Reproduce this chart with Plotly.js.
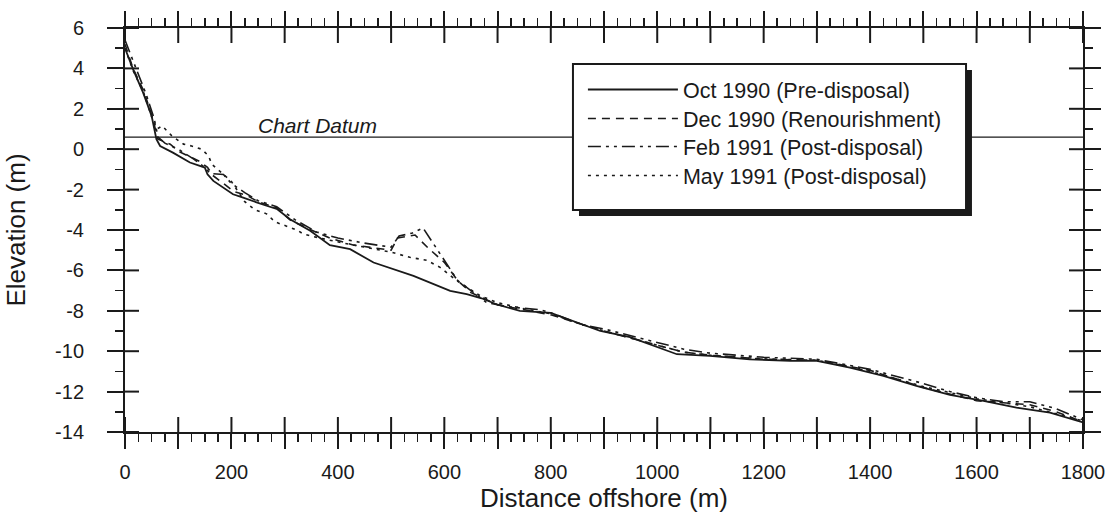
<!DOCTYPE html>
<html>
<head>
<meta charset="utf-8">
<script src="https://cdn.plot.ly/plotly-3.0.1.min.js"></script>
<style>html,body{margin:0;padding:0;background:#fff;}#chart{width:1118px;height:522px;}</style>
</head>
<body>
<div id="chart"></div>
<script>
// ---- data (distance offshore in m, elevation in m) ----
const octX = [0, 16, 34, 50, 59, 66, 90, 122, 150, 155, 166, 185, 203, 222, 247, 266, 285, 310, 348, 385, 423, 467, 542, 611, 642, 670, 700, 742, 800, 850, 893, 949, 986, 1037, 1099, 1174, 1250, 1300, 1362, 1425, 1487, 1550, 1613, 1675, 1738, 1800];
const octY = [5.0, 3.9, 2.8, 1.65, 0.5, 0.16, -0.17, -0.66, -0.91, -1.24, -1.57, -1.9, -2.23, -2.4, -2.64, -2.8, -2.95, -3.47, -4.04, -4.75, -4.95, -5.61, -6.27, -7.01, -7.18, -7.38, -7.7, -8.0, -8.1, -8.6, -9.0, -9.3, -9.65, -10.15, -10.23, -10.4, -10.48, -10.48, -10.81, -11.22, -11.72, -12.16, -12.46, -12.79, -13.04, -13.53];

const decX = [0, 15, 35, 50, 62, 85, 100, 120, 140, 155, 165, 185, 205, 230, 250, 285, 310, 350, 385, 430, 470, 500, 512, 545, 570, 600, 625, 650, 700, 750, 800, 850, 900, 950, 1000, 1050, 1100, 1200, 1300, 1400, 1500, 1600, 1650, 1700, 1750, 1800];
const decY = [5.2, 4.0, 2.9, 1.7, 0.5, 0.25, -0.1, -0.35, -0.6, -0.9, -1.3, -1.7, -2.1, -2.3, -2.6, -2.9, -3.5, -4.0, -4.4, -4.75, -4.9, -5.0, -4.4, -4.25, -4.9, -5.6, -6.5, -7.1, -7.7, -7.95, -8.2, -8.6, -9.0, -9.35, -9.7, -10.05, -10.2, -10.4, -10.45, -10.95, -11.8, -12.45, -12.55, -12.65, -13.0, -13.5];

const febX = [0, 20, 40, 55, 62, 75, 100, 130, 150, 160, 185, 200, 225, 250, 285, 320, 360, 400, 450, 500, 515, 540, 560, 580, 600, 625, 650, 680, 720, 780, 800, 860, 900, 960, 1000, 1050, 1100, 1200, 1300, 1400, 1500, 1550, 1600, 1650, 1700, 1750, 1800];
const febY = [5.4, 4.0, 2.7, 1.5, 0.6, 0.3, 0.0, -0.5, -0.9, -1.2, -1.25, -1.7, -2.15, -2.55, -2.85, -3.5, -4.1, -4.4, -4.65, -4.85, -4.3, -4.15, -3.9, -4.7, -5.5, -6.5, -7.0, -7.6, -7.8, -7.95, -8.1, -8.7, -8.9, -9.3, -9.55, -9.9, -10.1, -10.3, -10.4, -10.9, -11.6, -12.0, -12.3, -12.5, -12.5, -12.85, -13.4];

const mayX = [0, 15, 35, 50, 60, 70, 88, 110, 125, 144, 157, 163, 200, 225, 244, 266, 282, 301, 323, 335, 366, 420, 470, 501, 535, 567, 592, 623, 667, 700, 750, 800, 850, 900, 950, 1000, 1050, 1100, 1200, 1300, 1400, 1500, 1600, 1700, 1800];
const mayY = [5.0, 3.9, 2.8, 1.6, 1.0, 1.15, 0.66, 0.25, 0.16, 0.0, -0.33, -0.74, -1.6, -2.6, -3.0, -3.2, -3.6, -3.8, -4.0, -4.2, -4.4, -4.7, -4.95, -5.1, -5.35, -5.5, -5.85, -6.5, -7.25, -7.6, -7.9, -8.15, -8.6, -9.0, -9.35, -9.7, -10.05, -10.2, -10.38, -10.45, -11.0, -11.75, -12.35, -12.75, -13.45];

const seriesNames = ['Oct 1990 (Pre-disposal)', 'Dec 1990 (Renourishment)', 'Feb 1991 (Post-disposal)', 'May 1991 (Post-disposal)'];

const datumX = [0, 1800];
const datumY = [0.6, 0.6];
const datumLabel = 'Chart Datum';

const xRange = [0, 1800];
const yRange = [-14, 6];
const xTickVals = [0, 100, 200, 300, 400, 500, 600, 700, 800, 900, 1000, 1100, 1200, 1300, 1400, 1500, 1600, 1700, 1800];
const xTickText = ['0', '', '200', '', '400', '', '600', '', '800', '', '1000', '', '1200', '', '1400', '', '1600', '', '1800'];
const yTickVals = [6, 4, 2, 0, -2, -4, -6, -8, -10, -12, -14];
const yTickText = ['6', '4', '2', '0', '-2', '-4', '-6', '-8', '-10', '-12', '-14'];

const xTitle = 'Distance offshore (m)';
const yTitle = 'Elevation (m)';

// ---- styling ----
const ink = '#1a1a1a';
const FONT = 'Liberation Sans, Arial, Helvetica, sans-serif';
const legendTops = [0.8985, 0.8267, 0.7574, 0.6856];
const legendIds = ['legend', 'legend2', 'legend3', 'legend4'];
const plotW = 958, plotH = 404;           // plot area size in px (from margins)
const innerLenX = 15, innerLenY = 14;     // px, inner half of the major ticks

// inner half of the crossing major ticks, built from the tick arrays and axis ranges
const dy = innerLenX / plotH * (yRange[1] - yRange[0]);
const dx = innerLenY / plotW * (xRange[1] - xRange[0]);
const tickPathX = [], tickPathY = [];
xTickVals.forEach(function (t) {
  tickPathX.push(t, t, null, t, t, null);
  tickPathY.push(yRange[0], yRange[0] + dy, null, yRange[1] - dy, yRange[1], null);
});
yTickVals.forEach(function (t) {
  tickPathX.push(xRange[0], xRange[0] + dx, null, xRange[1] - dx, xRange[1], null);
  tickPathY.push(t, t, null, t, t, null);
});

const traces = [
  {x: tickPathX, y: tickPathY, mode: 'lines', showlegend: false, hoverinfo: 'skip', cliponaxis: false,
   connectgaps: false, line: {color: ink, width: 2}},
  {x: datumX, y: datumY, mode: 'lines', showlegend: false, hoverinfo: 'skip', line: {color: ink, width: 1.2}},
  {x: octX, y: octY, name: seriesNames[0], legend: legendIds[0], mode: 'lines', line: {color: ink, width: 1.8, dash: 'solid'}},
  {x: decX, y: decY, name: seriesNames[1], legend: legendIds[1], mode: 'lines', line: {color: ink, width: 1.6, dash: '8px,6px'}},
  {x: febX, y: febY, name: seriesNames[2], legend: legendIds[2], mode: 'lines', line: {color: ink, width: 1.6, dash: '13px,5px,3px,5px,3px,5px'}},
  {x: mayX, y: mayY, name: seriesNames[3], legend: legendIds[3], mode: 'lines', line: {color: ink, width: 1.6, dash: '3px,5px'}}
];

const legendBoxShapes = [
  {type: 'rect', xref: 'paper', yref: 'paper', layer: 'above',
   x0: 0.4739, x1: 0.8841, y0: 0.5347, y1: 0.896, fillcolor: ink, line: {width: 0}},
  {type: 'rect', xref: 'paper', yref: 'paper', layer: 'above',
   x0: 0.4676, x1: 0.8779, y0: 0.5495, y1: 0.9109, fillcolor: '#fff', line: {color: ink, width: 2}}
];

const layout = {
  width: 1118, height: 522,
  margin: {l: 125, r: 35, t: 28, b: 90},
  paper_bgcolor: '#fff', plot_bgcolor: '#fff',
  font: {family: FONT, color: ink, size: 20},
  showlegend: true,
  xaxis: {
    range: xRange, showgrid: false, zeroline: false,
    showline: true, linecolor: ink, linewidth: 2, mirror: 'ticks',
    tickmode: 'array', tickvals: xTickVals, ticktext: xTickText,
    ticks: 'outside', ticklen: 15, tickwidth: 2, tickcolor: ink,
    ticklabelstandoff: 6,
    tickfont: {size: 20, family: FONT, color: ink},
    minor: {dtick: 25, tick0: 0, ticks: 'outside', ticklen: 8, tickwidth: 1.5, tickcolor: ink, showgrid: false},
    title: {text: xTitle, font: {size: 26, family: FONT, color: ink}, standoff: 1}
  },
  yaxis: {
    range: yRange, showgrid: false, zeroline: false,
    showline: true, linecolor: ink, linewidth: 2, mirror: 'ticks',
    tickmode: 'array', tickvals: yTickVals, ticktext: yTickText,
    ticks: 'outside', ticklen: 16, tickwidth: 2, tickcolor: ink,
    ticklabelstandoff: 19,
    tickfont: {size: 20, family: FONT, color: ink},
    minor: {dtick: 1, tick0: 0, ticks: 'outside', ticklen: 8, tickwidth: 1.5, tickcolor: ink, showgrid: false},
    title: {text: yTitle, font: {size: 26, family: FONT, color: ink}, standoff: 22}
  },
  annotations: [{
    xref: 'x', yref: 'y', x: 361, y: datumY[0], yanchor: 'bottom', xanchor: 'center',
    text: '<i>' + datumLabel + '</i>', showarrow: false, yshift: -2,
    font: {size: 21, family: FONT, color: ink}
  }],
  shapes: legendBoxShapes
};

legendIds.forEach(function (id, i) {
  layout[id] = {
    x: 0.478, y: legendTops[i], xanchor: 'left', yanchor: 'top',
    bgcolor: 'rgba(0,0,0,0)', borderwidth: 0,
    font: {size: 21.5, family: FONT, color: ink},
    itemwidth: 90
  };
});

Plotly.newPlot('chart', traces, layout, {displayModeBar: false, staticPlot: true});
</script>
</body>
</html>
